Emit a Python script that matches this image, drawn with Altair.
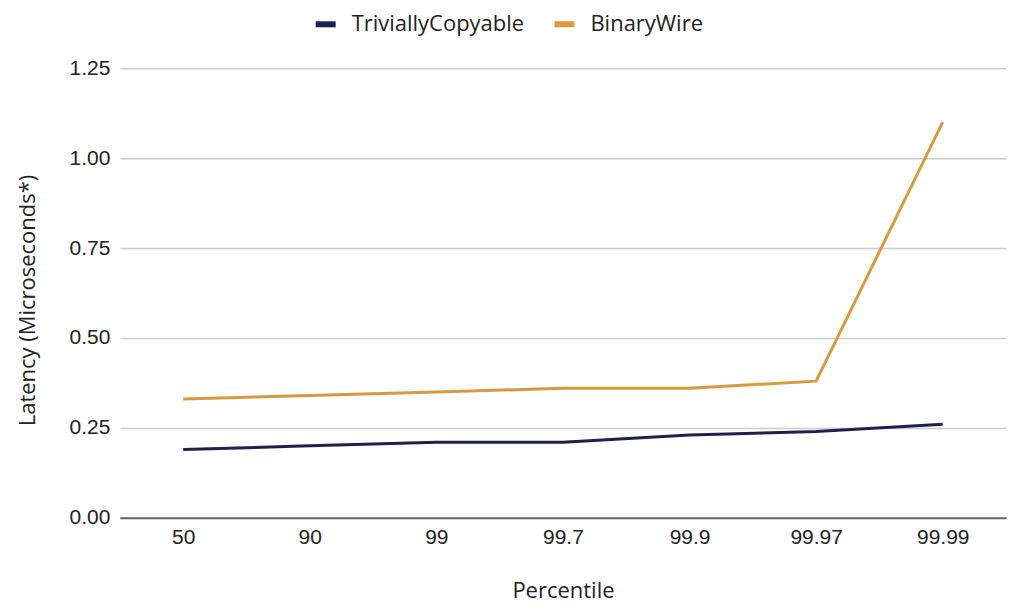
import pandas as pd
import altair as alt

percentiles = ['50', '90', '99', '99.7', '99.9', '99.97', '99.99']
trivially_copyable = [0.19, 0.20, 0.21, 0.21, 0.23, 0.24, 0.26]
binary_wire = [0.33, 0.34, 0.35, 0.36, 0.36, 0.38, 1.10]
series = ['TriviallyCopyable', 'BinaryWire']
colors = ['#1c2150', '#d99a3e']

df = pd.DataFrame({
    'Percentile': percentiles * 2,
    'Latency': trivially_copyable + binary_wire,
    'Series': [series[0]] * len(percentiles) + [series[1]] * len(percentiles),
})

font = 'Open Sans'
label_font = 'Liberation Sans'

chart = alt.Chart(df).mark_line(
    strokeWidth=3
).encode(
    x=alt.X('Percentile:N',
            sort=percentiles,
            scale=alt.Scale(padding=0.5),
            axis=alt.Axis(title='Percentile',
                          labelAngle=0,
                          ticks=False,
                          grid=False,
                          domainColor='#666666',
                          domainWidth=2,
                          labelPadding=9,
                          titlePadding=33)
    ),
    y=alt.Y('Latency:Q',
            scale=alt.Scale(domain=[0, 1.25]),
            axis=alt.Axis(title='Latency (Microseconds*)',
                          values=[0, 0.25, 0.5, 0.75, 1.0, 1.25],
                          format='.2f',
                          ticks=False,
                          domain=False,
                          gridColor='#cccccc',
                          gridWidth=1.5,
                          labelPadding=10,
                          titlePadding=30,
                          titleY=232)
    ),
    color=alt.Color('Series:N',
                    sort=series,
                    scale=alt.Scale(domain=series, range=colors),
                    legend=alt.Legend(title=None,
                                      orient='none',
                                      direction='horizontal',
                                      legendX=193,
                                      legendY=-57,
                                      symbolType='stroke',
                                      symbolSize=400,
                                      symbolStrokeWidth=6,
                                      symbolOffset=0,
                                      labelOffset=13,
                                      labelLimit=0,
                                      columnPadding=18,
                                      labelFontSize=22,
                                      labelColor='#222222',
                                      labelFont=font))
).properties(
    width=887,
    height=450,
    autosize=alt.AutoSizeParams(type='none'),
    padding={'left': 112, 'top': 60, 'right': 10, 'bottom': 90}
).configure_view(
    strokeWidth=0
).configure_axis(
    labelFont=label_font,
    titleFont=font,
    labelFontSize=21,
    titleFontSize=22,
    titleFontWeight='normal',
    labelColor='#222222',
    titleColor='#222222'
)

chart.save('out.html', embed_options={'renderer': 'svg', 'actions': False})
